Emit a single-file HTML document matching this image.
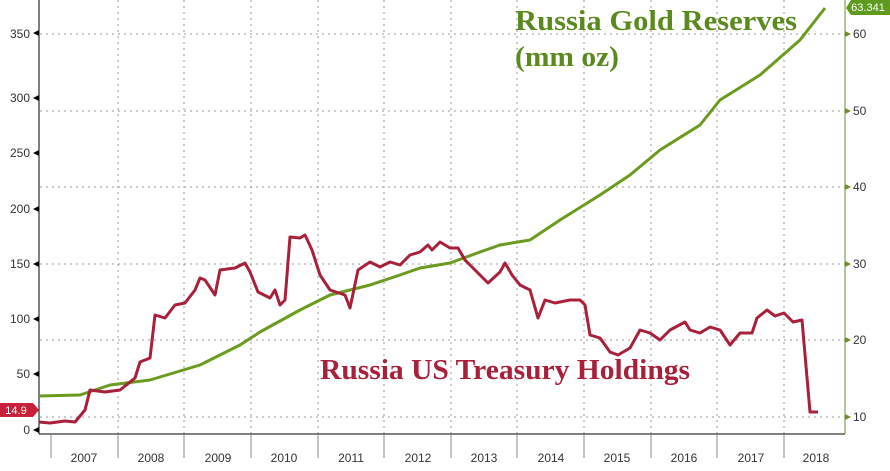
<!DOCTYPE html>
<html><head><style>body{margin:0;background:#fff}svg{display:block}</style></head><body>
<svg width="890" height="471" xmlns="http://www.w3.org/2000/svg" font-family="Liberation Sans, sans-serif">
<rect width="890" height="471" fill="#fff"/>
<g stroke="#999" stroke-dasharray="2,4" stroke-width="1">
<line x1="40" y1="34" x2="845" y2="34"/><line x1="40" y1="111" x2="845" y2="111"/><line x1="40" y1="187" x2="845" y2="187"/><line x1="40" y1="264" x2="845" y2="264"/><line x1="40" y1="340" x2="845" y2="340"/><line x1="40" y1="417" x2="845" y2="417"/>
<line x1="118" y1="0" x2="118" y2="434"/><line x1="184" y1="0" x2="184" y2="434"/><line x1="251" y1="0" x2="251" y2="434"/><line x1="318" y1="0" x2="318" y2="434"/><line x1="384" y1="0" x2="384" y2="434"/><line x1="451" y1="0" x2="451" y2="434"/><line x1="517" y1="0" x2="517" y2="434"/><line x1="584" y1="0" x2="584" y2="434"/><line x1="651" y1="0" x2="651" y2="434"/><line x1="717" y1="0" x2="717" y2="434"/><line x1="784" y1="0" x2="784" y2="434"/>
</g>
<line x1="39" y1="0" x2="39" y2="434" stroke="#000"/>
<line x1="39" y1="434" x2="845" y2="434" stroke="#000"/>
<line x1="845" y1="0" x2="845" y2="434" stroke="#6a8f2a"/>
<g stroke="#888"><line x1="51" y1="434" x2="51" y2="458"/><line x1="118" y1="434" x2="118" y2="458"/><line x1="184" y1="434" x2="184" y2="458"/><line x1="251" y1="434" x2="251" y2="458"/><line x1="318" y1="434" x2="318" y2="458"/><line x1="384" y1="434" x2="384" y2="458"/><line x1="451" y1="434" x2="451" y2="458"/><line x1="517" y1="434" x2="517" y2="458"/><line x1="584" y1="434" x2="584" y2="458"/><line x1="651" y1="434" x2="651" y2="458"/><line x1="717" y1="434" x2="717" y2="458"/><line x1="784" y1="434" x2="784" y2="458"/></g>
<g font-size="12" fill="#333" text-anchor="middle">
<text x="84" y="462">2007</text><text x="151" y="462">2008</text><text x="218" y="462">2009</text><text x="284" y="462">2010</text><text x="351" y="462">2011</text><text x="418" y="462">2012</text><text x="484" y="462">2013</text><text x="551" y="462">2014</text><text x="617" y="462">2015</text><text x="684" y="462">2016</text><text x="751" y="462">2017</text><text x="816" y="462">2018</text>
</g>
<g font-size="12" fill="#333" text-anchor="end">
<text x="30" y="38">350</text><text x="30" y="102">300</text><text x="30" y="157">250</text><text x="30" y="213">200</text><text x="30" y="268">150</text><text x="30" y="323">100</text><text x="30" y="378">50</text><text x="30" y="434">0</text>
</g>
<g fill="#000"><path d="M33,33l6,-3v6z"/><path d="M33,98l6,-3v6z"/><path d="M33,153l6,-3v6z"/><path d="M33,209l6,-3v6z"/><path d="M33,264l6,-3v6z"/><path d="M33,319l6,-3v6z"/><path d="M33,374l6,-3v6z"/><path d="M33,430l6,-3v6z"/></g>
<g fill="#6a8f2a"><path d="M851,34l-6,-3v6z"/><path d="M851,111l-6,-3v6z"/><path d="M851,187l-6,-3v6z"/><path d="M851,264l-6,-3v6z"/><path d="M851,340l-6,-3v6z"/><path d="M851,417l-6,-3v6z"/></g>
<g font-size="12" fill="#333"><text x="853" y="38">60</text><text x="853" y="115">50</text><text x="853" y="191">40</text><text x="853" y="268">30</text><text x="853" y="344">20</text><text x="853" y="421">10</text></g>
<polyline fill="none" stroke="#6a9a1e" stroke-width="3" stroke-linejoin="round" points="39,396 80,395 110,385 150,380 200,365 240,345 260,332 300,310 330,295 370,285 400,275 420,268 450,263 480,252 500,245 530,240 560,220 600,195 630,175 660,150 700,125 720,100 760,75 800,40 825,8"/>
<polyline fill="none" stroke="#a8203a" stroke-width="3" stroke-linejoin="round" points="39,422 50,423 65,421 75,422 85,410 90,390 105,392 120,390 135,378 140,362 150,358 155,315 165,318 175,305 185,303 195,290 200,278 205,280 215,295 220,270 235,268 245,263 250,272 258,292 270,298 275,290 280,305 285,300 290,237 300,238 305,235 312,250 320,275 330,290 345,295 350,308 358,270 370,262 380,267 390,262 400,265 410,255 420,252 428,245 432,250 440,242 450,248 458,248 465,260 475,270 488,283 500,272 505,263 512,275 520,285 530,290 538,318 545,300 555,303 570,300 580,300 585,305 590,335 600,338 610,352 618,355 630,348 640,330 650,333 660,340 670,330 685,322 690,330 700,333 710,327 720,330 730,345 740,333 752,333 757,318 767,310 775,316 784,313 793,322 802,320 810,412 818,412"/>
<path d="M0,403h33l6,7l-6,7h-33z" fill="#c8203a"/>
<text x="16" y="414" font-size="11" fill="#fff" text-anchor="middle">14.9</text>
<path d="M851,0h39v15h-39l-5,-7z" fill="#5e9a1e"/>
<text x="868" y="11" font-size="11" fill="#fff" text-anchor="middle">63.341</text>
<g font-family="Liberation Serif, serif" font-weight="bold">
<text x="515" y="30" font-size="28" fill="#5a8a1e" textLength="282" lengthAdjust="spacingAndGlyphs">Russia Gold Reserves</text>
<text x="515" y="66" font-size="28" fill="#5a8a1e" textLength="104" lengthAdjust="spacingAndGlyphs">(mm oz)</text>
<text x="320" y="379" font-size="28" fill="#a8203a" textLength="370" lengthAdjust="spacingAndGlyphs">Russia US Treasury Holdings</text>
</g>
</svg>
</body></html>
